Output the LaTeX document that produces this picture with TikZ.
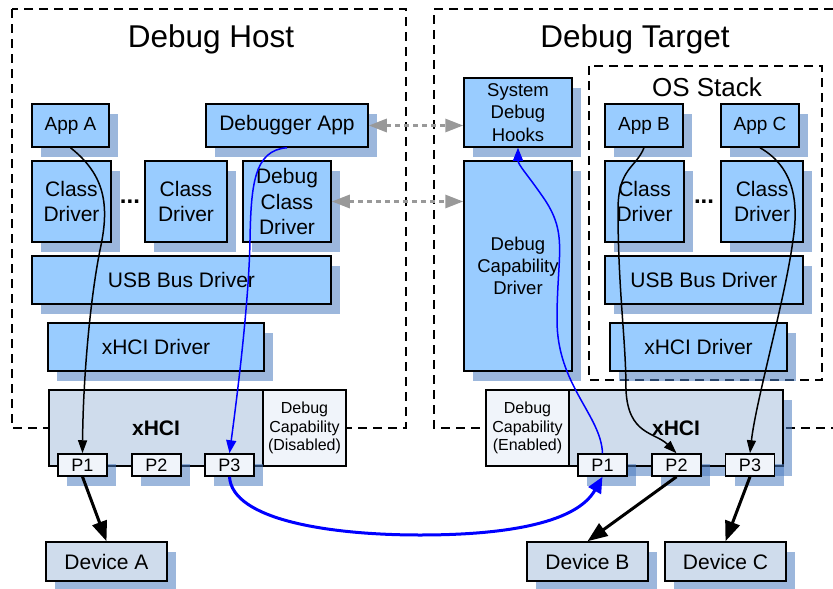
\documentclass[tikz,border=0pt]{standalone}
\usepackage{fontspec}
\setmainfont{Liberation Sans}
\usetikzlibrary{arrows.meta,shadows,calc}
\definecolor{boxblue}{RGB}{153,204,255}
\definecolor{hcfill}{RGB}{207,220,236}
\definecolor{lightfill}{RGB}{240,244,250}
\definecolor{shadowc}{RGB}{74,123,192}
\definecolor{arrgray}{RGB}{153,153,153}
\definecolor{myblue}{RGB}{0,0,255}
\begin{document}
\begin{tikzpicture}[x=1pt,y=-1pt,
  base/.style={draw=black, line width=1.5pt, inner sep=0pt, align=center},
  sh/.style={drop shadow={shadow xshift=9pt, shadow yshift=-10pt, draw=none, fill=shadowc, opacity=0.55}},
  sz/.style 2 args={minimum width=#1pt, minimum height=#2pt},
  bbox/.style={base, sh, fill=boxblue},
  hcbox/.style={base, fill=hcfill},
  ltbox/.style={base, fill=lightfill},
  port/.style={base, sh, fill=lightfill, sz={49}{22}, font=\fontsize{18}{21}\selectfont},
  dev/.style={base, sh, fill=hcfill, sz={121}{39}, font=\fontsize{21}{25}\selectfont},
  fa/.style={font=\fontsize{21}{25.5}\selectfont},
  fb/.style={font=\fontsize{19}{22}\selectfont},
  fc/.style={font=\fontsize{18.5}{22.3}\selectfont},
  fd/.style={font=\fontsize{16}{18.5}\selectfont},
  dotsty/.style={font=\fontsize{24}{28}\selectfont\bfseries, inner sep=0pt},
  dbox/.style={draw=black, line width=1.5pt, dash pattern=on 9pt off 6pt},
  thinarrow/.style={draw=black, line width=1.5pt, -{Triangle[length=13pt,width=9pt]}},
  bluethin/.style={draw=myblue, line width=1.5pt, -{Triangle[length=13pt,width=10pt]}},
  bluethick/.style={draw=myblue, line width=3pt, -{Triangle[length=16pt,width=14pt]}},
  thickarrow/.style={draw=black, line width=3pt, -{Triangle[length=20pt,width=15pt]}},
  grayarrow/.style={draw=arrgray, line width=3pt, dash pattern=on 5pt off 4pt,
     {Triangle[length=18pt,width=13pt]}-{Triangle[length=18pt,width=13pt]}},
  title/.style={anchor=base, font=\fontsize{31.5}{36}\selectfont},
]
\useasboundingbox (0,0) rectangle (833,589);

% dashed groups
\draw[dbox] (12,9) rectangle (406,428);
\draw[dbox] (833,9) -- (434,9) -- (434,428) -- (833,428);
\draw[dbox] (589,66) rectangle (822,380);

\node[title] (thost) at (211,47) {Debug Host};
\node[title] (ttarget) at (635,47) {Debug Target};
\node[anchor=base, font=\fontsize{26}{30}\selectfont] (tos) at (707,96) {OS Stack};

% ---------- Host ----------
\node[bbox, fb, sz={77}{43}] (appA) at (70.5,125.5) {App A};
\node[bbox, fa, sz={162}{43}] (dbgapp) at (287,125.5) {Debugger App};
\node[bbox, fa, sz={79}{81}] (cd1) at (71.5,201.5) {Class\\Driver};
\node[bbox, fa, sz={82}{81}] (cd2) at (186,201.5) {Class\\Driver};
\node[bbox, fa, sz={88}{81}] (dcd) at (287,201.5) {Debug\\Class\\Driver};
\node[dotsty] (dotsH) at (130,202) {...};
\node[bbox, fa, sz={299}{48}] (usbH) at (181.5,280) {USB Bus Driver};
\node[bbox, fa, sz={216}{48}] (xdrvH) at (156,347) {xHCI Driver};
\node[hcbox, fa, sz={214}{76}] (xhciH) at (156,428) {\textbf{xHCI}};
\node[ltbox, fd, sz={83}{76}] (dcapH) at (304.5,428) {Debug\\Capability\\(Disabled)};
\node[port] (p1H) at (82.5,465) {P1};
\node[port] (p2H) at (156.5,465) {P2};
\node[port] (p3H) at (229.5,465) {P3};
\node[dev] (devA) at (106.5,561.5) {Device A};

% ---------- Target ----------
\node[bbox, fc, sz={108}{69}] (sdh) at (518,112.5) {System\\Debug\\Hooks};
\node[bbox, fc, sz={108}{210}] (dcdrv) at (518,266) {Debug\\Capability\\Driver};
\node[bbox, fb, sz={78}{43}] (appB) at (644,125.5) {App B};
\node[bbox, fb, sz={78}{43}] (appC) at (760,125.5) {App C};
\node[bbox, fa, sz={79}{81}] (cdB) at (644.5,201.5) {Class\\Driver};
\node[bbox, fa, sz={82}{81}] (cdC) at (762,201.5) {Class\\Driver};
\node[dotsty] (dotsT) at (704,202) {...};
\node[bbox, fa, sz={198}{48}] (usbT) at (704,280) {USB Bus Driver};
\node[bbox, fa, sz={177}{48}] (xdrvT) at (698.5,347) {xHCI Driver};
\node[ltbox, fd, sz={83}{76}] (dcapT) at (527.5,428) {Debug\\Capability\\(Enabled)};
\node[hcbox, sh, fa, sz={214}{76}] (xhciT) at (676,428) {\textbf{xHCI}};
\node[port] (p1T) at (602.5,465) {P1};
\node[port] (p2T) at (676.5,465) {P2};
\node[port] (p3T) at (750,465) {P3};
\node[dev] (devB) at (587.5,561.5) {Device B};
\node[dev] (devC) at (725.5,561.5) {Device C};

% ---------- flows ----------
\draw[thinarrow] (appA.south) .. controls (105,175) and (110,205) .. (100,250)
   .. controls (90,300) and (83,380) .. (p1H.north);
\draw[bluethin] (dbgapp.south) .. controls (254,150) and (251,185) .. (250,240)
   .. controls (249,300) and (238,390) .. (p3H.north);
\draw[bluethick] (p3H.south) .. controls (232,520) and (330,535) .. (420,535)
   .. controls (510,535) and (577,522) .. (p1T.south);
\draw[bluethin] (p1T.north) .. controls (601,415) and (557,385) .. (557,320)
   .. controls (557,255) and (568,235) .. (545,200)
   .. controls (528,175) and (518,165) .. (sdh.south);
\draw[thinarrow] (appB.south) .. controls (636,168) and (618,168) .. (618,210)
   .. controls (618,290) and (626,340) .. (626,390)
   .. controls (628,435) and (655,432) .. (p2T.north);
\draw[thinarrow] (appC.south) .. controls (790,165) and (800,195) .. (793,240)
   .. controls (785,300) and (756,400) .. (p3T.north);

\draw[thickarrow] (p1H.south) -- (devA.north);
\draw[thickarrow] (p2T.south) -- (devB.north);
\draw[thickarrow] (p3T.south) -- (devC.north);

\draw[grayarrow] (dbgapp.east) -- (dbgapp.east -| sdh.west);
\draw[grayarrow] (dcd.east) -- (dcd.east -| dcdrv.west);
\end{tikzpicture}
\end{document}
